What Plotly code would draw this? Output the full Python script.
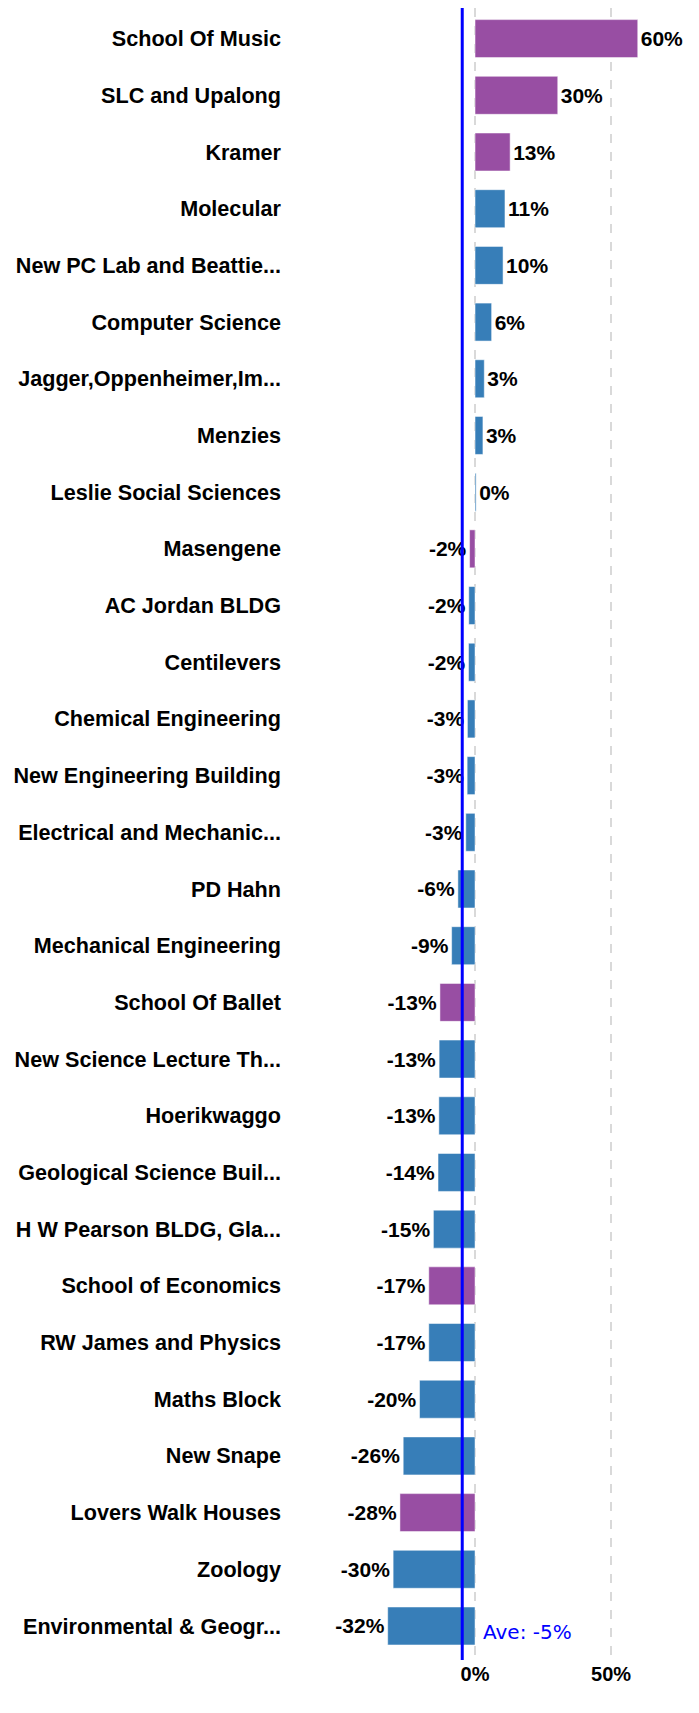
import plotly.graph_objects as go

categories = [
    "School Of Music", "SLC and Upalong", "Kramer", "Molecular",
    "New PC Lab and Beattie...", "Computer Science", "Jagger,Oppenheimer,Im...",
    "Menzies", "Leslie Social Sciences", "Masengene", "AC Jordan BLDG",
    "Centilevers", "Chemical Engineering", "New Engineering Building",
    "Electrical and Mechanic...", "PD Hahn", "Mechanical Engineering",
    "School Of Ballet", "New Science Lecture Th...", "Hoerikwaggo",
    "Geological Science Buil...", "H W Pearson BLDG, Gla...", "School of Economics",
    "RW James and Physics", "Maths Block", "New Snape", "Lovers Walk Houses",
    "Zoology", "Environmental & Geogr...",
]
values = [
    59.8, 30.4, 12.9, 11.0, 10.3, 6.1, 3.4, 2.9, 0.4, -2.0, -2.3, -2.4, -2.8,
    -2.9, -3.4, -6.3, -8.6, -12.9, -13.2, -13.3, -13.6, -15.3, -17.0, -17.0,
    -20.4, -26.4, -27.6, -30.1, -32.1,
]
groups = [
    "p", "p", "p", "b", "b", "b", "b", "b", "b", "p", "b", "b", "b", "b", "b",
    "b", "b", "p", "b", "b", "b", "b", "p", "b", "b", "b", "p", "b", "b",
]
average_value = -4.7
average_label = "Ave: -5%"
tick_values = [0, 50]
tick_labels = ["0%", "50%"]

color_map = {"p": "#984EA3", "b": "#377EB8"}
colors = [color_map[g] for g in groups]
labels = [f"{round(v):.0f}%" for v in values]

fig = go.Figure()
fig.add_trace(go.Bar(
    x=values, y=categories, orientation="h",
    marker=dict(color=colors, line=dict(color="rgba(255,255,255,0.5)", width=1)),
    text=labels, textposition="outside", cliponaxis=False,
    textfont=dict(family="Liberation Sans", size=21, color="black", weight="bold"),
    hoverinfo="skip",
))

fig.add_shape(type="line", xref="x", yref="paper", x0=average_value, x1=average_value,
              y0=0, y1=1.002, line=dict(color="#0000FF", width=3), layer="above")
fig.add_annotation(x=0, y=categories[-1], xref="x", yref="y", text=average_label,
                   showarrow=False, xanchor="left", yanchor="middle", xshift=6, yshift=-6,
                   font=dict(family="DejaVu Sans", size=20, color="#0000FF"))

fig.update_layout(
    width=691, height=1705,
    margin=dict(l=282, r=9, t=0, b=53),
    paper_bgcolor="white", plot_bgcolor="white",
    bargap=0.33, showlegend=False,
    xaxis=dict(range=[-68, 79], tickvals=tick_values, ticktext=tick_labels,
               showgrid=True, gridcolor="#D9D9D9", gridwidth=2, griddash="dash",
               zeroline=False, showline=False, ticks="",
               tickfont=dict(family="Liberation Sans", size=20, color="black", weight="bold")),
    yaxis=dict(type="category", range=[28.6, -0.54], showgrid=False, zeroline=False,
               showline=False, ticks="", ticklabelstandoff=8,
               tickfont=dict(family="Liberation Sans", size=21.6, color="black", weight="bold")),
)

fig.write_html("out.html")
